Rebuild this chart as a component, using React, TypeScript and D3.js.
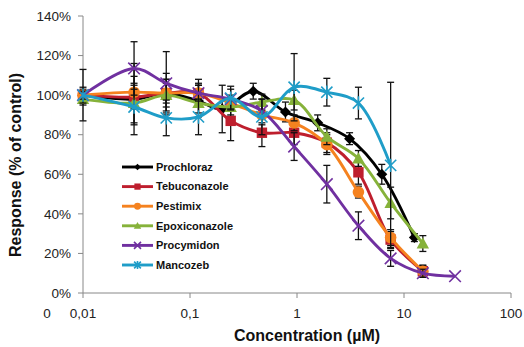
import React from "react";
import * as d3 from "d3";

const seriesNames = ["Prochloraz", "Tebuconazole", "Pestimix", "Epoxiconazole", "Procymidon", "Mancozeb"];
const seriesColors = ["#000000", "#BE1E2D", "#F5821F", "#86B23A", "#7030A0", "#1F9DC8"];
const seriesMarkers = ["diamond", "square", "circle", "triangle", "x", "star"];

const conc = [0.01, 0.03, 0.06, 0.12, 0.24, 0.47, 0.94, 1.9, 3.75, 7.5, 15, 30];
const prochlorazConc = [0.01, 0.03, 0.06, 0.12, 0.2, 0.39, 0.78, 1.56, 3.1, 6.2, 12.5];

const prochlorazVals = [100, 98, 101, 97, 93, 102, 91.5, 86, 78, 60, 28];
const prochlorazErr = [13, 18, 10, 8, 12, 4, 5, 4, 3, 5, 2];
const tebuconazoleVals = [100, 99, 101, 101, 87, 81, 81, 76, 61, 27, 11];
const tebuconazoleErr = [3, 6, 7, 5, 10, 7, 6, 5, 6, 4, 3];
const pestimixVals = [100, 101.5, 101, 101, 96, 90, 86, 75, 51, 28, 11];
const pestimixErr = [2, 8, 5, 7, 4, 5, 4, 5, 3, 4, 3];
const epoxiconazoleVals = [98, 96, 100, 96, 94, 96.5, 97.5, 79, 68, 45.5, 25];
const epoxiconazoleErr = [3, 10, 8, 5, 4, 4, 5, 4, 4, 8, 4];
const procymidonVals = [100, 113.5, 106, 101, 98, 92, 74, 55, 34, 17.5, 10, 8.5];
const procymidonErr = [2, 13.5, 16, 4, 5, 6, 7, 9.5, 7, 4, 2, 0];
const mancozebVals = [100, 94, 88.5, 89, 98.5, 89, 104, 101.5, 96, 64.5];
const mancozebErr = [4, 9, 9, 9, 6, 9, 17, 7, 8, 42];

const yTicks = [0, 20, 40, 60, 80, 100, 120, 140];
const xTicks = [0.01, 0.1, 1, 10, 100];
const xTickLabels = ["0,01", "0,1", "1", "10", "100"];

const W = 524, H = 347;
const x = d3.scaleLog().domain([0.01, 100]).range([83, 511]);
const y = d3.scaleLinear().domain([0, 140]).range([293, 16]);

type Pt = { c: number; v: number; e: number };
const build = (cs: number[], vs: number[], es: number[]): Pt[] => vs.map((v, i) => ({ c: cs[i], v, e: es[i] }));

const series = [
  build(prochlorazConc, prochlorazVals, prochlorazErr),
  build(conc, tebuconazoleVals, tebuconazoleErr),
  build(conc, pestimixVals, pestimixErr),
  build(conc, epoxiconazoleVals, epoxiconazoleErr),
  build(conc, procymidonVals, procymidonErr),
  build(conc, mancozebVals, mancozebErr),
];

function Marker({ kind, cx, cy, color, s = 1 }: { kind: string; cx: number; cy: number; color: string; s?: number }) {
  if (kind === "diamond") {
    const r = 5.5 * s;
    return <path d={`M${cx},${cy - r}L${cx + r},${cy}L${cx},${cy + r}L${cx - r},${cy}Z`} fill={color} />;
  }
  if (kind === "square") {
    const r = 5.2 * s;
    return <rect x={cx - r} y={cy - r} width={2 * r} height={2 * r} fill={color} />;
  }
  if (kind === "circle") {
    return <circle cx={cx} cy={cy} r={5.8 * s} fill={color} />;
  }
  if (kind === "triangle") {
    const r = 6.2 * s;
    return <path d={`M${cx},${cy - r}L${cx + r},${cy + r * 0.8}L${cx - r},${cy + r * 0.8}Z`} fill={color} />;
  }
  if (kind === "x") {
    const r = 5.8 * s;
    return <path d={`M${cx - r},${cy - r}L${cx + r},${cy + r}M${cx - r},${cy + r}L${cx + r},${cy - r}`} stroke={color} strokeWidth={1.6} />;
  }
  const r = 5.6 * s;
  return (
    <path
      d={`M${cx - r},${cy - r}L${cx + r},${cy + r}M${cx - r},${cy + r}L${cx + r},${cy - r}M${cx},${cy - r * 1.2}L${cx},${cy + r * 1.2}`}
      stroke={color}
      strokeWidth={1.6}
    />
  );
}

export default function App() {
  const line = d3
    .line<Pt>()
    .x((d) => x(d.c))
    .y((d) => y(d.v))
    .curve(d3.curveCatmullRom.alpha(0.5));

  const legendX = 122;
  const legendY0 = 167;
  const legendDy = 19.6;

  return (
    <svg width={W} height={H} style={{ position: "absolute", left: 0, top: 0, background: "#fff" }} fontFamily="'Liberation Sans', Arial, sans-serif">
      {/* axes */}
      <line x1={83} x2={83} y1={16} y2={293} stroke="#888" strokeWidth={1} />
      <line x1={83} x2={511} y1={293} y2={293} stroke="#888" strokeWidth={1} />
      {yTicks.map((t) => (
        <g key={"y" + t}>
          <line x1={78} x2={83} y1={y(t)} y2={y(t)} stroke="#888" />
          <text x={71} y={y(t)} dy="0.35em" textAnchor="end" fontSize={13.5} fill="#222">
            {t}%
          </text>
        </g>
      ))}
      {xTicks.map((t, i) => (
        <g key={"x" + t}>
          <line x1={x(t)} x2={x(t)} y1={293} y2={298} stroke="#888" />
          <text x={x(t)} y={318} textAnchor="middle" fontSize={13.5} fill="#222">
            {xTickLabels[i]}
          </text>
        </g>
      ))}
      <text x={47} y={318} textAnchor="middle" fontSize={13.5} fill="#222">0</text>

      {/* titles */}
      <text x={307} y={341} textAnchor="middle" fontSize={16} fontWeight="bold" fill="#111">
        Concentration (µM)
      </text>
      <text transform="translate(21,165) rotate(-90)" textAnchor="middle" fontSize={16} fontWeight="bold" fill="#111">
        Response (% of control)
      </text>

      {/* series */}
      {series.map((pts, si) => (
        <g key={"s" + si}>
          {pts
            .filter((p) => p.e > 0)
            .map((p, i) => {
              const px = x(p.c);
              return (
                <g key={"e" + i} stroke="#111" strokeWidth={1.3}>
                  <line x1={px} x2={px} y1={y(p.v + p.e)} y2={y(p.v - p.e)} />
                  <line x1={px - 3.5} x2={px + 3.5} y1={y(p.v + p.e)} y2={y(p.v + p.e)} />
                  <line x1={px - 3.5} x2={px + 3.5} y1={y(p.v - p.e)} y2={y(p.v - p.e)} />
                </g>
              );
            })}
          <path d={line(pts) || ""} fill="none" stroke={seriesColors[si]} strokeWidth={2.9} />
          {pts.map((p, i) => (
            <Marker key={"m" + i} kind={seriesMarkers[si]} cx={x(p.c)} cy={y(p.v)} color={seriesColors[si]} />
          ))}
        </g>
      ))}

      {/* legend */}
      {seriesNames.map((n, i) => {
        const ly = legendY0 + i * legendDy;
        return (
          <g key={"l" + i}>
            <line x1={legendX} x2={legendX + 31} y1={ly} y2={ly} stroke={seriesColors[i]} strokeWidth={2.9} />
            <Marker kind={seriesMarkers[i]} cx={legendX + 15.5} cy={ly} color={seriesColors[i]} s={0.6} />
            <text x={legendX + 34} y={ly} dy="0.35em" fontSize={11} fontWeight="bold" fill="#111" textLength={undefined}>
              {n}
            </text>
          </g>
        );
      })}
    </svg>
  );
}
